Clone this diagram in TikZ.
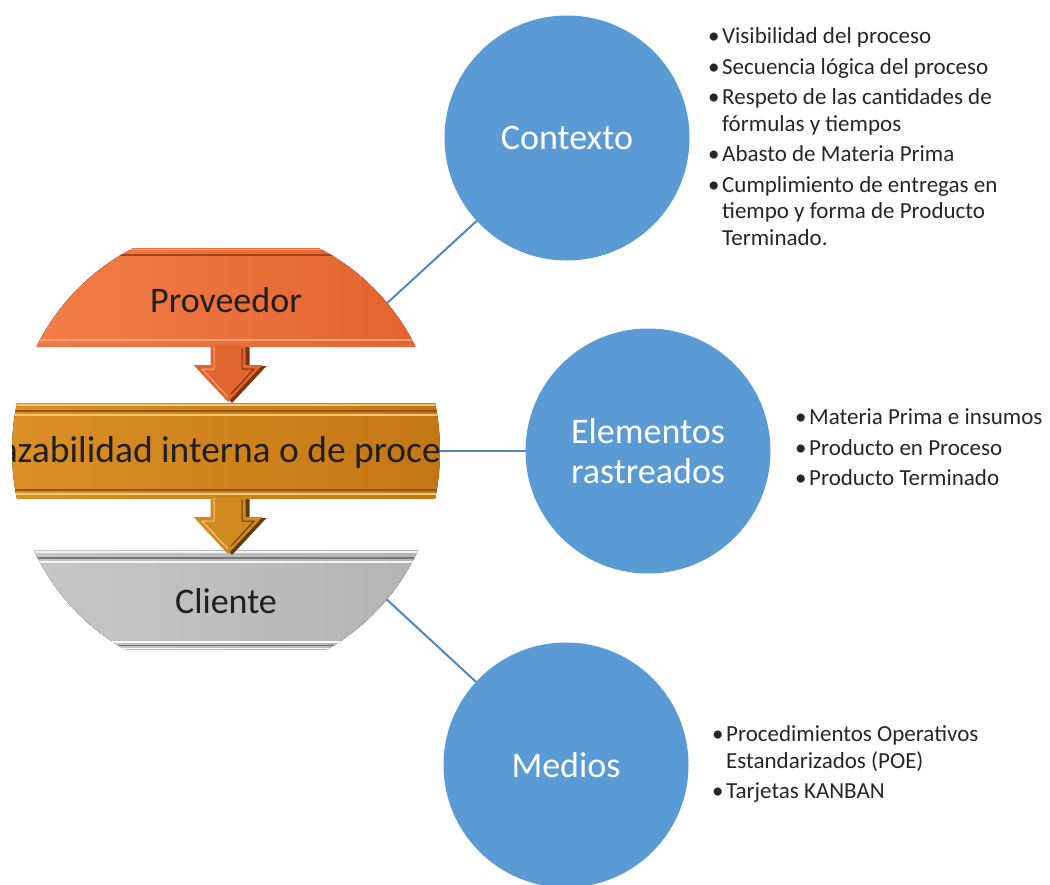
\documentclass[tikz,border=0pt]{standalone}
\usepackage{fontspec}
\setmainfont{Carlito}
\usetikzlibrary{shapes.geometric}
\definecolor{cblue}{HTML}{5B9BD5}
\definecolor{lblue}{HTML}{4F88C0}
\definecolor{topL}{HTML}{F5804A}
\definecolor{topR}{HTML}{E0602B}
\definecolor{topD}{HTML}{A5441C}
\definecolor{topH}{HTML}{F8A276}
\definecolor{midL}{HTML}{DC9026}
\definecolor{midR}{HTML}{C27513}
\definecolor{midD}{HTML}{8C5810}
\definecolor{midH}{HTML}{F2C678}
\definecolor{botL}{HTML}{C8C8C8}
\definecolor{botR}{HTML}{B2B2B2}
\definecolor{botD}{HTML}{777777}
\definecolor{botH}{HTML}{F4F4F4}
\definecolor{arrA}{HTML}{E2642E}
\definecolor{arrAD}{HTML}{7E3212}
\definecolor{arrAH}{HTML}{F8A880}
\definecolor{arrB}{HTML}{D08A1F}
\definecolor{arrBD}{HTML}{5E3C08}
\definecolor{arrBH}{HTML}{F4CC80}
\newcommand{\bul}{\makebox[14pt][l]{•}}
\newcommand{\ind}{\hspace*{14pt}}
\begin{document}
\begin{tikzpicture}[x=1pt,y=-1pt,
  bubble/.style={circle, fill=cblue, minimum size=245pt, inner sep=0pt, outer sep=0pt,
    text=white, font=\fontsize{36}{40}\selectfont, align=center},
  conn/.style={draw=lblue, line width=2pt},
  bandtext/.style={font=\fontsize{36}{40}\selectfont, text=black!88, inner sep=0pt},
  listtext/.style={font=\fontsize{23}{26.5}\selectfont, align=left, anchor=north west,
    inner sep=0pt, text=black!85},
  pics/downarrow/.style n args={3}{code={
    \fill[#2,shift={(4,1)}] (-17.5,0) -- (17.5,0) -- (17.5,19) -- (34.5,19) -- (0,56) -- (-34.5,19) -- (-17.5,19) -- cycle;
    \fill[#1] (-17.5,0) -- (17.5,0) -- (17.5,19) -- (34.5,19) -- (0,56) -- (-34.5,19) -- (-17.5,19) -- cycle;
    \draw[#3, line width=1pt] (-14,0) -- (-14,23) -- (-26,23) -- (0,51);
    \draw[#2, line width=1pt] (14,2) -- (14,23) -- (26,23) -- (3,48);
  }}
]
\useasboundingbox (0,0) rectangle (1050,884);

% invisible outline of the left figure (for connectors)
\node[ellipse, minimum width=428pt, minimum height=450pt, inner sep=0pt, outer sep=0pt] (trace) at (226,451) {};

% bands
\begin{scope}
  \clip (226,451) ellipse [x radius=214pt, y radius=225pt];
  % top band
  \fill[left color=topL, right color=topR] (0,248) rectangle (460,346);
  \draw[line width=1.2pt, draw=topH] (0,249.5) -- (460,249.5);
  \draw[line width=2.5pt, draw=topD] (0,255) -- (460,255);
  \draw[line width=1.5pt, draw=topH] (0,340) -- (460,340);
  \draw[line width=1pt, draw=topD!70] (0,345) -- (460,345);
  % middle band
  \fill[left color=midL, right color=midR] (0,403) rectangle (460,498);
  \draw[line width=1.2pt, draw=midH] (0,405) -- (460,405);
  \draw[line width=2pt, draw=midD] (0,410.5) -- (460,410.5);
  \draw[line width=1.5pt, draw=midH] (0,415) -- (460,415);
  \draw[line width=2pt, draw=midD] (0,489.5) -- (460,489.5);
  \draw[line width=1.5pt, draw=midH] (0,494) -- (460,494);
  \node[bandtext, anchor=base east, font=\fontsize{37.5}{40}\selectfont] (midtext) at (441,462) {azabilidad interna o de proce};
  % bottom band
  \fill[left color=botL, right color=botR] (0,550) rectangle (460,649);
  \draw[line width=1.2pt, draw=botH] (0,552) -- (460,552);
  \draw[line width=2pt, draw=botD] (0,557.5) -- (460,557.5);
  \draw[line width=1.5pt, draw=botH] (0,562) -- (460,562);
  \draw[line width=2pt, draw=white] (0,641.5) -- (460,641.5);
  \draw[line width=1.5pt, draw=botD] (0,645.5) -- (460,645.5);
  \draw[line width=1pt, draw=botH] (0,648.5) -- (460,648.5);
\end{scope}

% arrows
\pic at (228,346) {downarrow={arrA}{arrAD}{arrAH}};
\pic at (228,498) {downarrow={arrB}{arrBD}{arrBH}};

% band labels
\node[bandtext, anchor=base] (prov) at (226,312) {Proveedor};
\node[bandtext, anchor=base] (cli) at (226,613) {Cliente};

% circles and connectors
\node[bubble] (ctx) at (567,138) {Contexto};
\node[bubble] (elem) at (648,451) {Elementos\\rastreados};
\node[bubble] (med) at (566,765) {Medios};
\draw[conn] (trace) -- (elem);
\draw[conn] (trace) -- (ctx);
\draw[conn] (trace) -- (med);

% lists
\node[listtext] (ctxlist) at (708,27.5) {\bul Visibilidad del proceso\\[4pt]
\bul Secuencia lógica del proceso\\[4pt]
\bul Respeto de las cantidades de\\
\ind fórmulas y tiempos\\[4pt]
\bul Abasto de Materia Prima\\[4pt]
\bul Cumplimiento de entregas en\\
\ind tiempo y forma de Producto\\
\ind Terminado.};
\node[listtext] (elemlist) at (795,408.5) {\bul Materia Prima e insumos\\[4pt]
\bul Producto en Proceso\\[4pt]
\bul Producto Terminado};
\node[listtext] (medlist) at (712,725.5) {\bul Procedimientos Operativos\\
\ind Estandarizados (POE)\\[4pt]
\bul Tarjetas KANBAN};
\end{tikzpicture}
\end{document}
